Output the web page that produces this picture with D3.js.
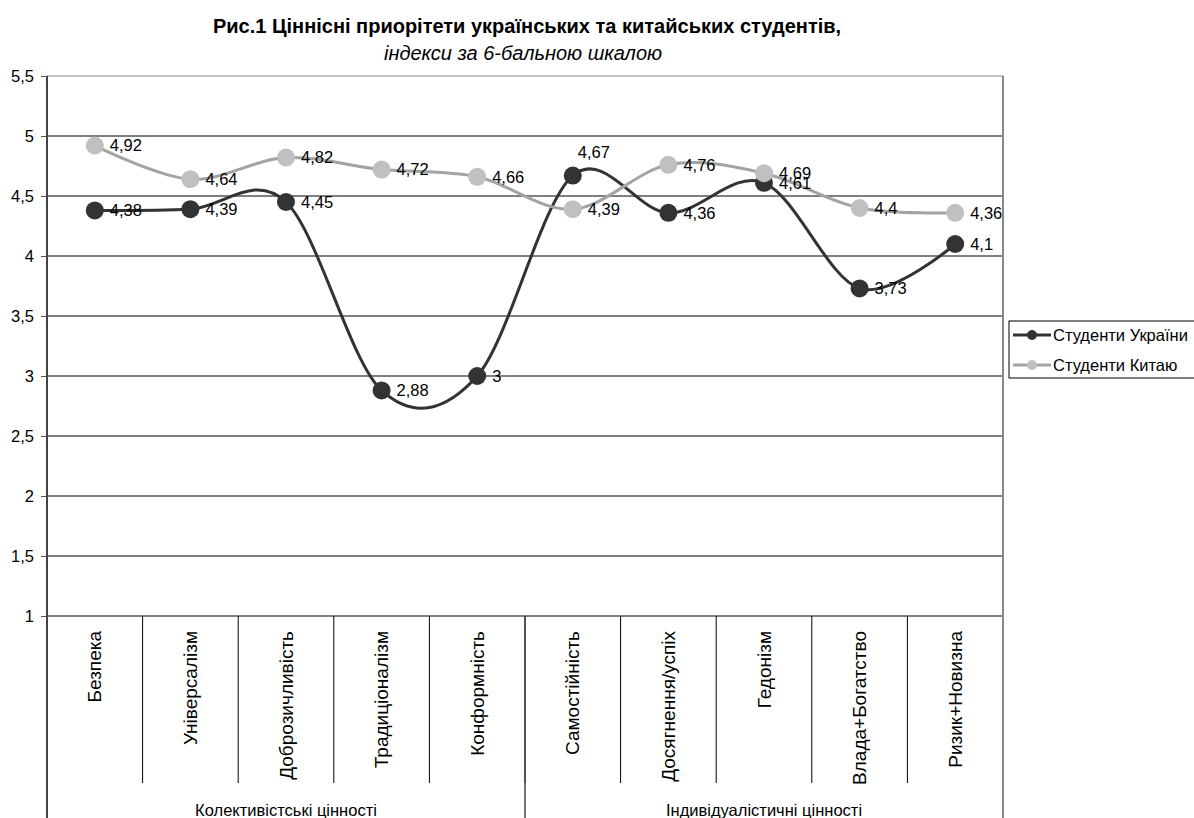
<!DOCTYPE html>
<html>
<head>
<meta charset="utf-8">
<script src="https://cdn.jsdelivr.net/npm/d3@7"></script>
<style>
  body { margin: 0; background: #fff; }
  svg text { font-family: "Liberation Sans", Arial, sans-serif; fill: #000; }
</style>
</head>
<body>
<svg id="chart" width="1194" height="818"></svg>
<script>
// chart data
const categories = ['Безпека', 'Універсалізм', 'Доброзичливість', 'Традиціоналізм', 'Конформність',
                    'Самостійність', 'Досягнення/успіх', 'Гедонізм', 'Влада+Богатство', 'Ризик+Новизна'];
const groups = ['Колективістські цінності', 'Індивідуалістичні цінності'];
const groupSize = [5, 5];
const ukraine = [4.38, 4.39, 4.45, 2.88, 3, 4.67, 4.36, 4.61, 3.73, 4.1];
const china = [4.92, 4.64, 4.82, 4.72, 4.66, 4.39, 4.76, 4.69, 4.4, 4.36];
const seriesNames = ['Студенти України', 'Студенти Китаю'];
const yTicks = [1, 1.5, 2, 2.5, 3, 3.5, 4, 4.5, 5, 5.5];

const fmt = v => String(v).replace('.', ',');

const margin = { top: 76, left: 47, right: 1003, bottom: 616 };
const svg = d3.select('#chart');

const x = d3.scaleBand().domain(categories).range([margin.left, margin.right]).padding(0);
const y = d3.scaleLinear().domain([1, 5.5]).range([margin.bottom, margin.top]);
const cx = d => x(d) + x.bandwidth() / 2;

// title
svg.append('text')
   .attr('x', 527).attr('y', 33)
   .attr('text-anchor', 'middle')
   .style('font-weight', 'bold').style('font-size', '20px')
   .text('Рис.1 Ціннісні приорітети українських та китайських студентів,');
svg.append('text')
   .attr('x', 523).attr('y', 60)
   .attr('text-anchor', 'middle')
   .style('font-style', 'italic').style('font-size', '20px')
   .text('індекси за 6-бальною шкалою');

// gridlines
svg.append('g').selectAll('line').data(yTicks).enter()
   .append('line')
   .attr('x1', margin.left).attr('x2', margin.right)
   .attr('y1', d => y(d)).attr('y2', d => y(d))
   .attr('stroke', d => d === 5.5 ? '#888' : '#000')
   .attr('stroke-width', 1);

// right border of plot
svg.append('line')
   .attr('x1', margin.right).attr('x2', margin.right)
   .attr('y1', margin.top).attr('y2', 818)
   .attr('stroke', '#888').attr('stroke-width', 2);

// y axis
const yAxis = d3.axisLeft(y).tickValues(yTicks).tickFormat(fmt).tickSizeInner(6).tickSizeOuter(0);
const yG = svg.append('g')
   .attr('transform', 'translate(' + margin.left + ',0)')
   .call(yAxis);
yG.select('.domain').remove();
yG.selectAll('.tick line').attr('stroke', '#555');
yG.selectAll('.tick text').style('font-size', '16.5px').attr('x', -13);
svg.append('line')
   .attr('x1', margin.left).attr('x2', margin.left)
   .attr('y1', margin.top).attr('y2', 818)
   .attr('stroke', '#444').attr('stroke-width', 2);

// category separators under the axis
const edges = categories.slice(1).map(c => x(c));
svg.append('g').selectAll('line').data(edges).enter()
   .append('line')
   .attr('x1', d => d).attr('x2', d => d)
   .attr('y1', margin.bottom).attr('y2', 783)
   .attr('stroke', '#000').attr('stroke-width', 1);

// group separators
let idx = 0;
const groupBounds = groupSize.map(n => {
    const start = x(categories[idx]);
    idx += n;
    const end = x(categories[idx - 1]) + x.bandwidth();
    return { start: start, end: end };
});
groupBounds.slice(1).forEach(b => {
    svg.append('line')
       .attr('x1', b.start).attr('x2', b.start)
       .attr('y1', margin.bottom).attr('y2', 818)
       .attr('stroke', '#444').attr('stroke-width', 1.5);
});

// category labels
svg.append('g').selectAll('text').data(categories).enter()
   .append('text')
   .attr('transform', d => 'translate(' + cx(d) + ',631) rotate(-90)')
   .attr('text-anchor', 'end')
   .attr('dy', '0.35em')
   .style('font-size', '19px')
   .text(d => d);

// group labels
svg.append('g').selectAll('text').data(groups).enter()
   .append('text')
   .attr('x', (d, i) => (groupBounds[i].start + groupBounds[i].end) / 2)
   .attr('y', 816)
   .attr('text-anchor', 'middle')
   .style('font-size', '16.5px')
   .text(d => d);

// series
const line = d3.line()
   .x(d => cx(d.cat))
   .y(d => y(d.v))
   .curve(d3.curveCatmullRom.alpha(0));

const series = [
    { name: seriesNames[0], values: ukraine, line: '#333', fill: '#333' },
    { name: seriesNames[1], values: china, line: '#a3a3a3', fill: '#c0c0c0' }
];

series.forEach(s => {
    const pts = categories.map((c, i) => ({ cat: c, v: s.values[i] }));
    svg.append('path')
       .datum(pts)
       .attr('d', line)
       .attr('fill', 'none')
       .attr('stroke', s.line)
       .attr('stroke-width', 3);
    svg.append('g').selectAll('circle').data(pts).enter()
       .append('circle')
       .attr('cx', d => cx(d.cat))
       .attr('cy', d => y(d.v))
       .attr('r', 9)
       .attr('fill', s.fill);
});

// data labels (the one for Самостійність sits above its point)
series.forEach((s, si) => {
    const pts = categories.map((c, i) => ({ cat: c, v: s.values[i] }));
    svg.append('g').selectAll('text').data(pts).enter()
       .append('text')
       .attr('x', d => cx(d.cat) + (si === 0 && d.cat === 'Самостійність' ? 5 : 15))
       .attr('y', d => y(d.v) + (si === 0 && d.cat === 'Самостійність' ? -23 : 0))
       .attr('dy', '0.35em')
       .style('font-size', '16.5px')
       .text(d => fmt(d.v));
});

// legend
const lg = svg.append('g').attr('transform', 'translate(1009,321)');
lg.append('rect')
  .attr('width', 190).attr('height', 57)
  .attr('fill', '#fff').attr('stroke', '#000').attr('stroke-width', 1);
series.forEach((s, i) => {
    const ly = 14 + i * 30;
    lg.append('line')
      .attr('x1', 4).attr('x2', 42).attr('y1', ly).attr('y2', ly)
      .attr('stroke', s.line).attr('stroke-width', 3);
    lg.append('circle')
      .attr('cx', 23).attr('cy', ly).attr('r', 5).attr('fill', s.fill);
    lg.append('text')
      .attr('x', 44).attr('y', ly).attr('dy', '0.35em')
      .style('font-size', '16.5px')
      .text(s.name);
});
</script>
</body>
</html>
